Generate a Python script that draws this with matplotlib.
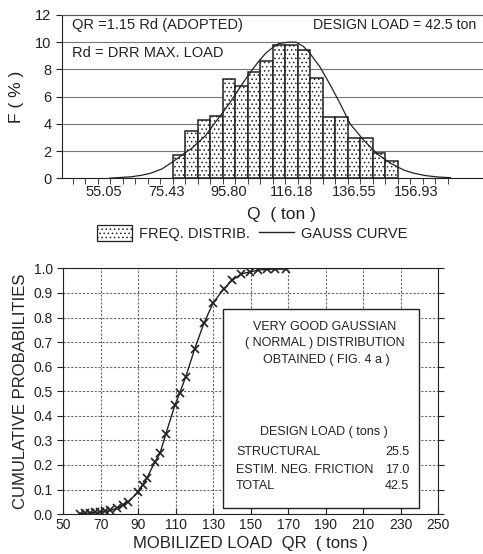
import matplotlib
matplotlib.use("Agg")
from matplotlib import pyplot as plt
from matplotlib.patches import Patch, Rectangle
from matplotlib.lines import Line2D

plt.rcParams['font.family'] = ['Liberation Sans', 'DejaVu Sans']
plt.rcParams['hatch.color'] = '#a8a8a8'
plt.rcParams['hatch.linewidth'] = 0.6
INK = '#222222'

# --- top chart: frequency distribution (bin width 4.075 ton) ---
bin_centers = [79.50, 83.58, 87.65, 91.73, 95.80, 99.88, 103.95, 108.03, 112.10,
               116.18, 120.25, 124.33, 128.40, 132.48, 136.55, 140.63, 144.70, 148.78]
freq = [1.7, 3.5, 4.3, 4.6, 7.3, 6.8, 7.8, 8.6, 9.8,
        9.8, 9.4, 7.4, 4.5, 4.5, 3.0, 3.0, 1.9, 1.3]
q_labels = [55.05, 75.43, 95.80, 116.18, 136.55, 156.93]

# gauss curve
gauss_q = [57, 60, 64, 67, 70, 74, 78, 81, 83.6, 86, 88, 91.3, 94, 96.8, 100,
           102.8, 105.5, 107.8, 110, 112, 115, 117.7, 120, 122.1, 125.4, 128.7,
           132, 135.3, 139.7, 144.1, 148.5, 152.9, 156.2, 160, 164, 168]
gauss_f = [0.02, 0.06, 0.12, 0.22, 0.36, 0.7, 1.3, 1.8, 2.2, 2.7, 3.1, 4.1, 4.9,
           5.8, 6.9, 7.8, 8.6, 9.2, 9.6, 9.9, 10.0, 10.0, 9.7, 9.2, 8.2, 6.9,
           5.5, 4.0, 2.8, 1.8, 1.1, 0.6, 0.37, 0.2, 0.1, 0.05]

# --- bottom chart: cumulative probabilities ---
load_qr = [58.9, 61.6, 64.3, 66.9, 69.6, 72.3, 74.9, 78.5, 82.0, 84.7, 90.0, 92.4,
           94.5, 98.9, 101.6, 104.8, 109.6, 112.2, 115.4, 120.2, 125.0, 130.0,
           135.5, 140.2, 145.1, 149.6, 154.0, 158.5, 163.0, 169.1]
cum_prob = [0.002, 0.004, 0.005, 0.007, 0.009, 0.011, 0.015, 0.023, 0.037, 0.05,
            0.09, 0.118, 0.145, 0.213, 0.247, 0.328, 0.444, 0.494, 0.56, 0.674,
            0.776, 0.86, 0.916, 0.952, 0.978, 0.986, 0.993, 0.996, 0.997, 0.997]

fig = plt.figure(figsize=(4.83, 5.54), dpi=100)

# top axes (runs past the right edge like the scan)
ax1 = fig.add_axes([0.128, 0.678, 0.90, 0.295])
width = 4.075
ax1.bar(bin_centers, freq, width=width, facecolor='white', edgecolor=INK,
        linewidth=1.1, hatch='....', zorder=2)
ax1.plot(gauss_q, gauss_f, color=INK, lw=0.9, zorder=3)
ax1.set_xlim(41.3, 183)
ax1.set_ylim(0, 12)
ax1.set_yticks(range(0, 13, 2))
ax1.set_xticks(q_labels)
ax1.set_xticklabels(['%.2f' % v for v in q_labels])
edges = [44.87 + i * width for i in range(31)]
ax1.set_xticks(edges, minor=True)
ax1.tick_params(axis='x', which='major', length=0, pad=5, labelsize=10.5, colors=INK)
ax1.tick_params(axis='x', which='minor', length=4, direction='out', color=INK)
ax1.tick_params(axis='y', length=4, direction='out', labelsize=10.5, colors=INK)
ax1.grid(axis='y', color='#777777', lw=0.8)
ax1.set_axisbelow(True)
ax1.spines['right'].set_visible(False)
for s in ['left', 'bottom']:
    ax1.spines[s].set_color(INK)
ax1.spines['top'].set_color('#555555')
ax1.set_ylabel('F ( % )', fontsize=12.5, color=INK, labelpad=8)
ax1.set_xlabel('Q  ( ton )', fontsize=12.5, color=INK, labelpad=2)
ax1.xaxis.set_label_coords(0.505, -0.175)
ax1.text(44.5, 11.27, 'QR =1.15 Rd (ADOPTED)', fontsize=10.5, va='center', color=INK)
ax1.text(44.5, 9.19, 'Rd = DRR MAX. LOAD', fontsize=10.5, va='center', color=INK)
ax1.text(123.2, 11.27, 'DESIGN LOAD = 42.5 ton', fontsize=10.2, va='center', color=INK)

handles = [Patch(facecolor='white', edgecolor=INK, hatch='....', lw=0.9),
           Line2D([0], [0], color=INK, lw=1)]
fig.legend(handles, ['FREQ. DISTRIB.', 'GAUSS CURVE'], loc='center',
           bbox_to_anchor=(0.522, 0.579), ncol=2, frameon=False, fontsize=10.5,
           handlelength=2.4, handleheight=1.3, columnspacing=0.6, handletextpad=0.5,
           labelcolor=INK)

# bottom axes
ax2 = fig.add_axes([0.131, 0.072, 0.776, 0.4435])
ax2.plot(load_qr, cum_prob, color=INK, lw=1.0, marker='x', ms=6, mew=1.2, zorder=4)
ax2.set_xlim(50, 250)
ax2.set_ylim(0, 1)
ax2.set_xticks(range(50, 251, 20))
ax2.set_yticks([i / 10 for i in range(11)])
ax2.set_yticklabels(['%.1f' % (i / 10) for i in range(11)])
ax2.tick_params(axis='both', length=4, labelsize=10, colors=INK)
ax2.tick_params(axis='y', right=True, direction='out')
ax2.tick_params(axis='x', direction='in', pad=3)
ax2.grid(True, color='#666666', lw=0.8, ls=(0, (2, 1.5)))
ax2.set_axisbelow(True)
for s in ax2.spines.values():
    s.set_color(INK)
ax2.set_xlabel('MOBILIZED LOAD  QR  ( tons )', fontsize=12, color=INK, labelpad=3)
ax2.set_ylabel('CUMULATIVE PROBABILITIES', fontsize=12, color=INK, labelpad=4)

box = Rectangle((0.427, 0.023), 0.522, 0.81, transform=ax2.transAxes,
                facecolor='white', edgecolor=INK, lw=1, zorder=5)
ax2.add_patch(box)
tk = dict(transform=ax2.transAxes, fontsize=9, color=INK, zorder=6, va='center')
ax2.text(0.698, 0.762, 'VERY GOOD GAUSSIAN', ha='center', **tk)
ax2.text(0.698, 0.695, '( NORMAL ) DISTRIBUTION', ha='center', **tk)
ax2.text(0.703, 0.627, 'OBTAINED ( FIG. 4 a )', ha='center', **tk)
ax2.text(0.694, 0.335, 'DESIGN LOAD ( tons )', ha='center', **tk)
rows = [('STRUCTURAL', '25.5', 0.254), ('ESTIM. NEG. FRICTION', '17.0', 0.179),
        ('TOTAL', '42.5', 0.114)]
for name, val, yy in rows:
    ax2.text(0.461, yy, name, ha='left', **tk)
    ax2.text(0.923, yy, val, ha='right', **tk)

fig.savefig('out.png', dpi=100)
